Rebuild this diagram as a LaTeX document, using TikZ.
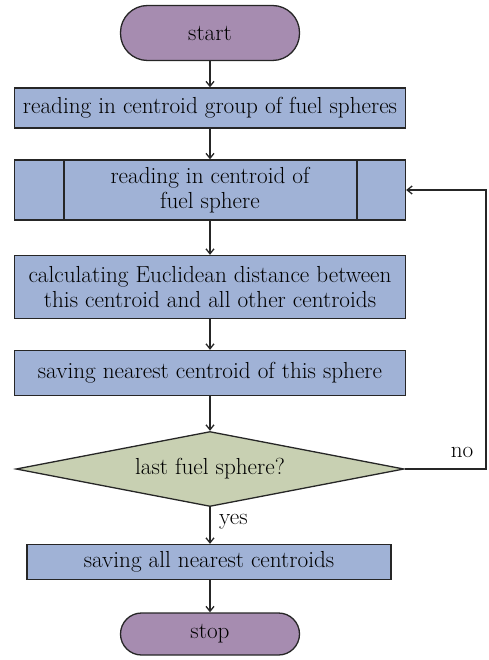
\documentclass[tikz,border=0pt]{standalone}
\usetikzlibrary{shapes.geometric,arrows.meta}
\definecolor{termc}{RGB}{166,140,176}
\definecolor{procc}{RGB}{160,178,214}
\definecolor{decc}{RGB}{200,208,178}
\begin{document}
\begin{tikzpicture}[x=1pt,y=-1pt,
  every node/.style={font=\fontsize{23.2}{25}\selectfont, text=black},
  term/.style={draw=black!85, line width=1.3pt, fill=termc, rounded corners=27pt, minimum width=179pt, minimum height=55pt, inner sep=0pt},
  proc/.style={draw=black!85, line width=1.3pt, fill=procc, minimum width=391pt, inner sep=0pt, align=center},
  dec/.style={draw=black!85, line width=1.3pt, fill=decc, diamond, aspect=5.2, minimum width=388pt, minimum height=75pt, inner sep=0pt},
  conn/.style={draw=black!85, line width=1.3pt, -{Straight Barb[length=5pt,width=8pt]}},
  lbl/.style={inner sep=0pt}]
\useasboundingbox (0,0) rectangle (488,660);
\node[term] (start) at (210,33) {start};
\node[proc, minimum height=40pt] (b1) at (210,108) {reading in centroid group of fuel spheres};
\node[proc, minimum height=60pt] (b2) at (210,190) {reading in centroid of\\fuel sphere};
\draw[draw=black!85, line width=1.3pt] (64,160) -- (64,220) (357,160) -- (357,220);
\node[proc, minimum height=63pt] (b3) at (210,287) {calculating Euclidean distance between\\this centroid and all other centroids};
\node[proc, minimum height=45pt] (b4) at (210,373) {saving nearest centroid of this sphere};
\node[dec] (d) at (210,469) {last fuel sphere?};
\node[proc, minimum width=364pt, minimum height=35pt] (b5) at (209,562) {saving all nearest centroids};
\node[term, minimum height=42pt, rounded corners=21pt] (stop) at (210,634) {stop};
\coordinate (c1) at (486,469);
\coordinate (c2) at (486,190);
\draw[conn] (start) -- (b1);
\draw[conn] (b1) -- (b2);
\draw[conn] (b2) -- (b3);
\draw[conn] (b3) -- (b4);
\draw[conn] (b4) -- (d);
\draw[conn] (d.south) -- (d.south |- b5.north);
\draw[conn] (b5.south -| stop.north) -- (stop.north);
\draw[conn] (d.east) -- (c1) -- (c2) -- (b2.east);
\node[lbl] (no) at (462,452) {no};
\node[lbl, anchor=west] (yes) at (219,522) {yes};
\end{tikzpicture}
\end{document}
